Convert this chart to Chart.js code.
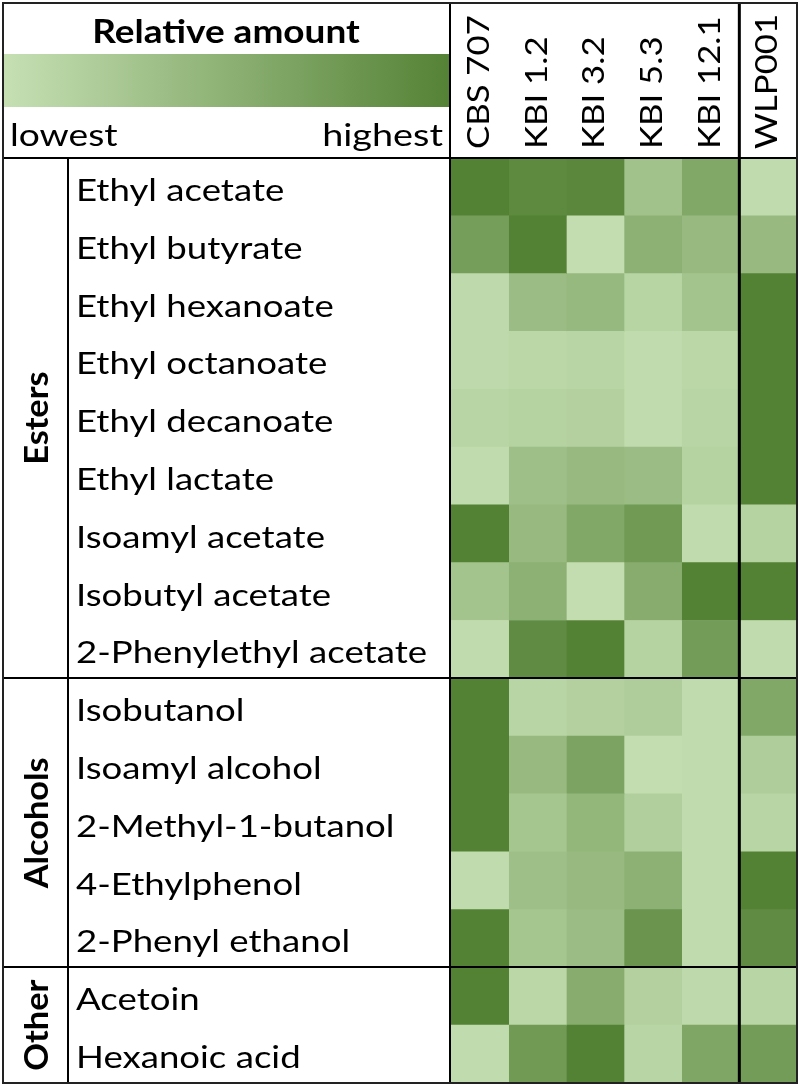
<!DOCTYPE html>
<html>
<head>
<meta charset="utf-8">
<script src="https://cdn.jsdelivr.net/npm/chart.js@4.4.1/dist/chart.umd.min.js"></script>
<style>
  html, body { margin: 0; padding: 0; background: #fff; }
</style>
</head>
<body>
<canvas id="heat" width="800" height="1087"></canvas>
<script>
// rows of the table, top to bottom
const compounds = [
  "Ethyl acetate", "Ethyl butyrate", "Ethyl hexanoate", "Ethyl octanoate",
  "Ethyl decanoate", "Ethyl lactate", "Isoamyl acetate", "Isobutyl acetate",
  "2-Phenylethyl acetate",
  "Isobutanol", "Isoamyl alcohol", "2-Methyl-1-butanol", "4-Ethylphenol",
  "2-Phenyl ethanol",
  "Acetoin", "Hexanoic acid"
];
const groupNames = ["Esters", "Alcohols", "Other"];
const groupSizes = [9, 5, 2];

const strains = ["CBS 707", "KBI 1.2", "KBI 3.2", "KBI 5.3", "KBI 12.1", "WLP001"];

// relative amount per strain (0 = lowest, 1 = highest), same order as compounds
const cbs707 = [1.00, 0.70, 0.07, 0.07, 0.12, 0.05, 1.00, 0.30, 0.05, 1.00, 1.00, 1.00, 0.05, 1.00, 1.00, 0.05];
const kbi12  = [0.92, 1.00, 0.38, 0.10, 0.15, 0.35, 0.40, 0.50, 0.90, 0.12, 0.40, 0.28, 0.35, 0.28, 0.10, 0.75];
const kbi32  = [0.95, 0.03, 0.42, 0.12, 0.17, 0.40, 0.60, 0.03, 1.00, 0.17, 0.65, 0.45, 0.40, 0.38, 0.55, 1.00];
const kbi53  = [0.32, 0.50, 0.13, 0.05, 0.05, 0.38, 0.75, 0.55, 0.15, 0.20, 0.03, 0.18, 0.50, 0.80, 0.17, 0.12];
const kbi121 = [0.60, 0.40, 0.30, 0.10, 0.12, 0.15, 0.05, 1.00, 0.72, 0.05, 0.05, 0.05, 0.05, 0.05, 0.07, 0.62];
const wlp001 = [0.05, 0.40, 1.00, 1.00, 1.00, 1.00, 0.15, 1.00, 0.05, 0.60, 0.20, 0.12, 1.00, 0.90, 0.12, 0.72];
const amounts = [cbs707, kbi12, kbi32, kbi53, kbi121, wlp001];

const LOW = [198, 224, 180];
const HIGH = [84, 130, 53];
const FONT = "Lato, 'DejaVu Sans', sans-serif";

function shade(v) {
  const c = LOW.map((l, i) => Math.round(l + (HIGH[i] - l) * v));
  return `rgb(${c[0]},${c[1]},${c[2]})`;
}

// text stretched along its own direction, reference type runs wide
function wideText(ctx, text, x, y, sx, align) {
  ctx.save();
  ctx.translate(x, y);
  ctx.scale(sx, 1);
  ctx.textAlign = align;
  ctx.fillText(text, 0, 0);
  ctx.restore();
}

/* -----------------------------------------------
   Table frame, legend header and all labels
------------------------------------------------ */
const tablePlugin = {
  id: "table",
  afterDraw(chart) {
    const ctx = chart.ctx;
    const area = chart.chartArea;
    const xs = chart.scales.x;
    const ys = chart.scales.y;
    const rowH = (area.bottom - area.top) / compounds.length;
    const left = 3, right = 797, top = 3, bottom = area.bottom;
    const groupRight = 68;
    const labelRight = area.left - 1;

    ctx.save();

    // legend gradient
    const grad = ctx.createLinearGradient(left, 0, labelRight, 0);
    grad.addColorStop(0, shade(0));
    grad.addColorStop(1, shade(1));
    ctx.fillStyle = grad;
    ctx.fillRect(left, 54, labelRight - left, 53);

    ctx.fillStyle = "#000";
    ctx.textBaseline = "alphabetic";
    ctx.font = `bold 33px ${FONT}`;
    wideText(ctx, "Relative amount", 226, 43, 1.12, "center");

    ctx.font = `31px ${FONT}`;
    wideText(ctx, "lowest", 10, 146, 1.2, "left");
    wideText(ctx, "highest", labelRight - 7, 146, 1.22, "right");

    // column headers, rotated
    strains.forEach((s, i) => {
      const x = xs.getPixelForValue(i + 0.5);
      ctx.save();
      ctx.translate(x - 2, 149);
      ctx.rotate(-Math.PI / 2);
      ctx.textBaseline = "middle";
      ctx.font = `31px ${FONT}`;
      wideText(ctx, s, 0, 1, 1.12, "left");
      ctx.restore();
    });

    // row labels
    ctx.font = `30px ${FONT}`;
    ctx.textBaseline = "alphabetic";
    compounds.forEach((c, i) => {
      const y = ys.getPixelForValue(i);
      wideText(ctx, c, 76, y + 14, 1.22, "left");
    });

    // group labels and separators
    ctx.strokeStyle = "#000";
    ctx.lineWidth = 2;
    let start = 0;
    groupNames.forEach((g, gi) => {
      const y0 = area.top + start * rowH;
      const y1 = y0 + groupSizes[gi] * rowH;
      ctx.save();
      ctx.translate(36, (y0 + y1) / 2);
      ctx.rotate(-Math.PI / 2);
      ctx.textBaseline = "middle";
      ctx.font = `bold 33px ${FONT}`;
      wideText(ctx, g, 0, 1, 1.04, "center");
      ctx.restore();

      ctx.beginPath();
      ctx.moveTo(left, Math.round(y0));
      ctx.lineTo(right, Math.round(y0));
      ctx.stroke();
      start += groupSizes[gi];
    });

    // vertical lines
    ctx.beginPath();
    ctx.moveTo(groupRight, area.top);
    ctx.lineTo(groupRight, bottom);
    ctx.moveTo(labelRight, top);
    ctx.lineTo(labelRight, bottom);
    ctx.stroke();

    ctx.lineWidth = 3;
    const wlpX = xs.getPixelForValue(5);
    ctx.beginPath();
    ctx.moveTo(wlpX, top);
    ctx.lineTo(wlpX, bottom);
    ctx.stroke();

    // outer frame
    ctx.lineWidth = 2;
    ctx.strokeStyle = "#222";
    ctx.strokeRect(left, top, right - left, bottom - top);

    ctx.restore();
  }
};

const ctx = document.getElementById("heat");

new Chart(ctx, {
  type: "bar",
  data: {
    labels: compounds,
    datasets: strains.map((s, i) => ({
      label: s,
      data: compounds.map(() => 1),
      backgroundColor: amounts[i].map(shade),
      borderWidth: 0,
      barPercentage: 1,
      categoryPercentage: 1
    }))
  },
  options: {
    indexAxis: "y",
    responsive: false,
    animation: false,
    layout: {
      padding: { left: 451, right: 3, top: 158, bottom: 4 }
    },
    plugins: {
      legend: { display: false },
      tooltip: { enabled: false }
    },
    scales: {
      x: { stacked: true, min: 0, max: 6, display: false },
      y: { stacked: true, display: false }
    }
  },
  plugins: [tablePlugin]
});
</script>
</body>
</html>
